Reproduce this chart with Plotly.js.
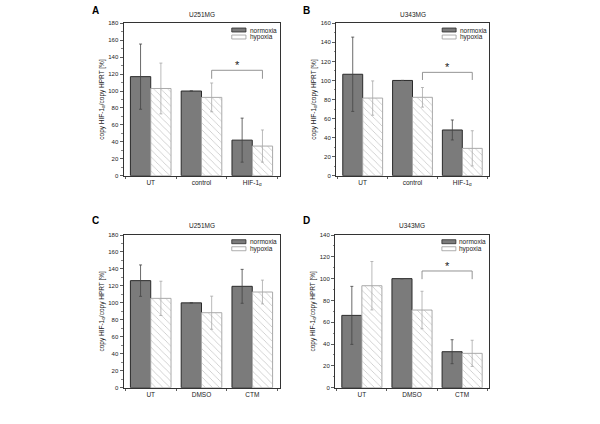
<!DOCTYPE html>
<html>
<head>
<meta charset="utf-8">
<script src="https://cdn.plot.ly/plotly-3.0.1.min.js"></script>
<style>html,body{margin:0;padding:0;background:#fff;}#chart{width:600px;height:424px;}</style>
</head>
<body>
<div id="chart"></div>
<script>
// ---- data ----
const panelLetters = ['A', 'B', 'C', 'D'];
const panelTitles = ['U251MG', 'U343MG', 'U251MG', 'U343MG'];
const seriesNames = ['normoxia', 'hypoxia'];
const catsAB = ['UT', 'control', 'HIF-1<sub>α</sub>'];
const catsCD = ['UT', 'DMSO', 'CTM'];

const normA = [117, 100, 42];
const errNormA = [38.5, 0, 26];
const hypA = [103, 92.5, 35];
const errHypA = [30, 17, 19];

const normB = [106.5, 100, 48];
const errNormB = [39, 0, 10.5];
const hypB = [81.5, 82.3, 28.7];
const errHypB = [18, 10.3, 18.5];

const normC = [126.2, 100, 119.5];
const errNormC = [18.5, 0, 20];
const hypC = [105.3, 88.4, 112.8];
const errHypC = [20.2, 19.5, 14];

const normD = [66.3, 100, 33];
const errNormD = [26.6, 0, 11];
const hypD = [93.5, 71.2, 31.5];
const errHypD = [22.2, 17.2, 12];

const yMax = [180, 160, 180, 140];
// significance brackets: [from category, to category, bracket height, end-drop]
const sigA = [1, 2, 124.5, 10];
const sigB = [1, 2, 108.5, 8];
const sigC = null;
const sigD = [1, 2, 107, 7.5];

// ---- build ----
const panels = [
  {cats: catsAB, n: normA, en: errNormA, h: hypA, eh: errHypA, sig: sigA},
  {cats: catsAB, n: normB, en: errNormB, h: hypB, eh: errHypB, sig: sigB},
  {cats: catsCD, n: normC, en: errNormC, h: hypC, eh: errHypC, sig: sigC},
  {cats: catsCD, n: normD, en: errNormD, h: hypD, eh: errHypD, sig: sigD}
];

const FONT = 'Liberation Sans, Arial, sans-serif';
const W = 600, H = 424;
// plot areas in pixels [left, right, top, bottom]
const boxes = [
  [123.5, 279.5, 23.3, 175.7],
  [336, 489, 23.3, 175.7],
  [123.5, 279.5, 235, 387.7],
  [335, 489, 235, 387.7]
];
const letterPos = [[95.5, 10], [306.5, 10], [95.5, 220.5], [306.5, 220.5]];
const bargap = 0.2;
const barOffset = (1 - bargap) / 4;

const data = [];
const layout = {
  width: W, height: H,
  margin: {l: 0, r: 0, t: 0, b: 0},
  paper_bgcolor: '#fff', plot_bgcolor: '#fff',
  showlegend: false,
  barmode: 'group', bargap: bargap, bargroupgap: 0,
  font: {family: FONT, size: 6.5, color: '#222'},
  shapes: [], annotations: []
};

panels.forEach((p, i) => {
  const k = i === 0 ? '' : String(i + 1);
  const xa = 'x' + k, ya = 'y' + k;
  data.push({
    type: 'bar', name: seriesNames[0], x: p.cats, y: p.n, xaxis: xa, yaxis: ya,
    marker: {color: '#7b7b7b', line: {color: '#2a2a2a', width: 1}},
    error_y: {type: 'data', array: p.en, visible: true, color: '#444', thickness: 0.8, width: 1.5}
  });
  data.push({
    type: 'bar', name: seriesNames[1], x: p.cats, y: p.h, xaxis: xa, yaxis: ya,
    marker: {color: '#ffffff', line: {color: '#aaaaaa', width: 1},
      pattern: {shape: '\\', fgcolor: '#c4c4c4', bgcolor: '#ffffff', size: 5, solidity: 0.15}},
    error_y: {type: 'data', array: p.eh, visible: true, color: '#a8a8a8', thickness: 0.8, width: 1.5}
  });
  const b = boxes[i];
  layout['xaxis' + k] = {
    domain: [b[0] / W, b[1] / W], anchor: ya,
    type: 'category', range: [-0.536, 2.536], fixedrange: true,
    tickson: 'boundaries', ticks: 'outside', ticklen: 2.5, tickcolor: '#333', tickwidth: 0.8,
    showline: true, linecolor: '#333', linewidth: 1, mirror: true,
    showgrid: false, zeroline: false,
    tickfont: {family: FONT, size: 6.5, color: '#222'}
  };
  layout['yaxis' + k] = {
    domain: [1 - b[3] / H, 1 - b[2] / H], anchor: xa,
    range: [0, yMax[i]], dtick: 20, fixedrange: true,
    ticks: 'outside', ticklen: 3, tickcolor: '#333', tickwidth: 0.8,
    minor: {ticks: 'outside', ticklen: 1.5, dtick: 10, tickcolor: '#333', tickwidth: 0.6},
    showline: true, linecolor: '#333', linewidth: 1, mirror: true,
    showgrid: false, zeroline: false,
    tickfont: {family: FONT, size: 6, color: '#222'},
    title: {text: 'copy HIF-1<sub>α</sub>/copy HPRT [%]', font: {family: FONT, size: 6.5, color: '#222'}, standoff: 3}
  };
  // panel letter
  layout.annotations.push({
    xref: 'paper', yref: 'paper', x: letterPos[i][0] / W, y: 1 - letterPos[i][1] / H,
    text: '<b>' + panelLetters[i] + '</b>', showarrow: false,
    font: {family: FONT, size: 10, color: '#000'}, xanchor: 'center', yanchor: 'middle'
  });
  // panel title
  layout.annotations.push({
    xref: xa + ' domain', yref: ya + ' domain', x: 0.5, y: 1.06,
    text: panelTitles[i], showarrow: false,
    font: {family: FONT, size: 6.5, color: '#222'}, xanchor: 'center', yanchor: 'middle'
  });
  // manual compact legend
  const swCols = [['#7b7b7b', '#2a2a2a'], ['#ffffff', '#999999']];
  seriesNames.forEach((nm, j) => {
    const yTop = 0.969 - j * 0.046;
    layout.shapes.push({
      type: 'rect', xref: xa + ' domain', yref: ya + ' domain',
      x0: 0.694, x1: 0.785, y0: yTop - 0.026, y1: yTop,
      fillcolor: swCols[j][0], line: {color: swCols[j][1], width: 0.8}
    });
    layout.annotations.push({
      xref: xa + ' domain', yref: ya + ' domain', x: 0.795, y: yTop - 0.013,
      text: nm, showarrow: false, xanchor: 'left', yanchor: 'middle',
      font: {family: FONT, size: 6.5, color: '#222'}
    });
  });
  // significance bracket
  if (p.sig) {
    const [c0, c1, hgt, drop] = p.sig;
    const x0 = c0 + barOffset, x1 = c1 + barOffset;
    const lc = {color: '#888', width: 0.9};
    layout.shapes.push({type: 'line', xref: xa, yref: ya, x0: x0, x1: x1, y0: hgt, y1: hgt, line: lc});
    layout.shapes.push({type: 'line', xref: xa, yref: ya, x0: x0, x1: x0, y0: hgt, y1: hgt - drop, line: lc});
    layout.shapes.push({type: 'line', xref: xa, yref: ya, x0: x1, x1: x1, y0: hgt, y1: hgt - drop, line: lc});
    layout.annotations.push({
      xref: xa, yref: ya, x: (x0 + x1) / 2, y: hgt, text: '*', showarrow: false,
      yanchor: 'bottom', yshift: -3, font: {family: FONT, size: 11, color: '#222'}
    });
  }
});

Plotly.newPlot('chart', data, layout, {staticPlot: true, displayModeBar: false});
</script>
</body>
</html>
